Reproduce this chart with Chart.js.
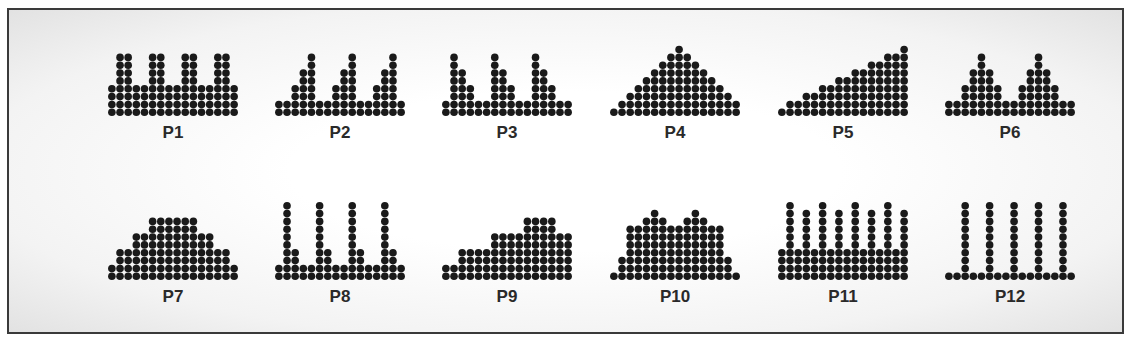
<!DOCTYPE html>
<html>
<head>
<meta charset="utf-8">
<script src="https://cdn.jsdelivr.net/npm/chart.js@4.4.0/dist/chart.umd.min.js"></script>
<style>
  html, body { margin: 0; padding: 0; background: #ffffff; width: 1131px; height: 340px; overflow: hidden; }
  #frame {
    position: absolute; left: 7px; top: 8px; width: 1113px; height: 322px;
    border: 2px solid #3a3a3a;
    background: radial-gradient(ellipse at 50% 50%, #ffffff 35%, #f3f3f3 75%, #e2e2e2 100%);
  }
  .panel { position: absolute; }
  .panel canvas { filter: blur(0.5px); }
  .lbl {
    position: absolute; width: 140px; text-align: center;
    font-family: "Liberation Sans", Arial, sans-serif; font-weight: bold;
    font-size: 17px; color: #2a2a2a; line-height: 17px;
  }
</style>
</head>
<body>
<div id="frame"></div>
<script>
// ---- data: column heights (number of stacked dots per column) ----
const categories = ['P1','P2','P3','P4','P5','P6','P7','P8','P9','P10','P11','P12'];
const p1  = [4,8,8,4,4,8,8,4,4,8,8,4,4,8,8,4];
const p2  = [2,2,4,6,8,2,2,4,6,8,2,2,4,6,8,2];
const p3  = [2,8,6,4,2,2,8,6,4,2,2,8,6,4,2,2];
const p4  = [1,2,3,4,5,6,7,8,9,8,7,6,5,4,3,2];
const p5  = [1,2,2,3,3,4,4,5,5,6,6,7,7,8,8,9];
const p6  = [2,2,4,6,8,6,4,2,2,4,6,8,6,4,2,2];
const p7  = [2,4,4,6,6,8,8,8,8,8,8,6,6,4,4,2];
const p8  = [2,10,4,2,2,10,4,2,2,10,4,2,2,10,4,2];
const p9  = [2,2,4,4,4,4,6,6,6,6,8,8,8,8,6,6];
const p10 = [1,3,7,7,8,9,8,7,7,8,9,8,7,7,3,1];
const p11 = [4,10,4,9,4,10,4,9,4,10,4,9,4,10,4,9];
const p12 = [1,1,10,1,1,10,1,1,10,1,1,10,1,1,10,1];
const series = [p1,p2,p3,p4,p5,p6,p7,p8,p9,p10,p11,p12];

// ---- layout ----
const COLS = 16, ROWS = 10;
const CW = 138, CH = 86;
const colLefts = [104, 271, 438, 606, 774, 941];
const rowTops = [34, 198];
const labelTops = [124, 288];

series.forEach((heights, i) => {
  const col = i % 6, row = Math.floor(i / 6);
  const wrap = document.createElement('div');
  wrap.className = 'panel';
  wrap.style.left = colLefts[col] + 'px';
  wrap.style.top = rowTops[row] + 'px';
  wrap.style.width = CW + 'px';
  wrap.style.height = CH + 'px';
  const cv = document.createElement('canvas');
  cv.width = CW; cv.height = CH;
  cv.style.width = CW + 'px'; cv.style.height = CH + 'px';
  wrap.appendChild(cv);
  document.body.appendChild(wrap);

  const pts = [];
  heights.forEach((h, c) => { for (let r = 0; r < h; r++) pts.push({ x: c, y: r }); });

  new Chart(cv.getContext('2d'), {
    type: 'scatter',
    data: { datasets: [{ label: categories[i], data: pts,
      pointStyle: 'circle', pointRadius: 3.8, pointHoverRadius: 3.8,
      backgroundColor: '#1a1a1a', borderWidth: 0 }] },
    options: {
      responsive: false, animation: false, devicePixelRatio: 1,
      layout: { padding: 0 },
      plugins: { legend: { display: false }, tooltip: { enabled: false } },
      events: [],
      scales: {
        x: { type: 'linear', min: -0.5, max: COLS - 0.5, display: false },
        y: { type: 'linear', min: -0.5, max: ROWS - 0.5, display: false }
      }
    }
  });

  const lb = document.createElement('div');
  lb.className = 'lbl';
  lb.textContent = categories[i];
  lb.style.left = (colLefts[col] + CW / 2 - 70) + 'px';
  lb.style.top = labelTops[row] + 'px';
  document.body.appendChild(lb);
});
</script>
</body>
</html>
